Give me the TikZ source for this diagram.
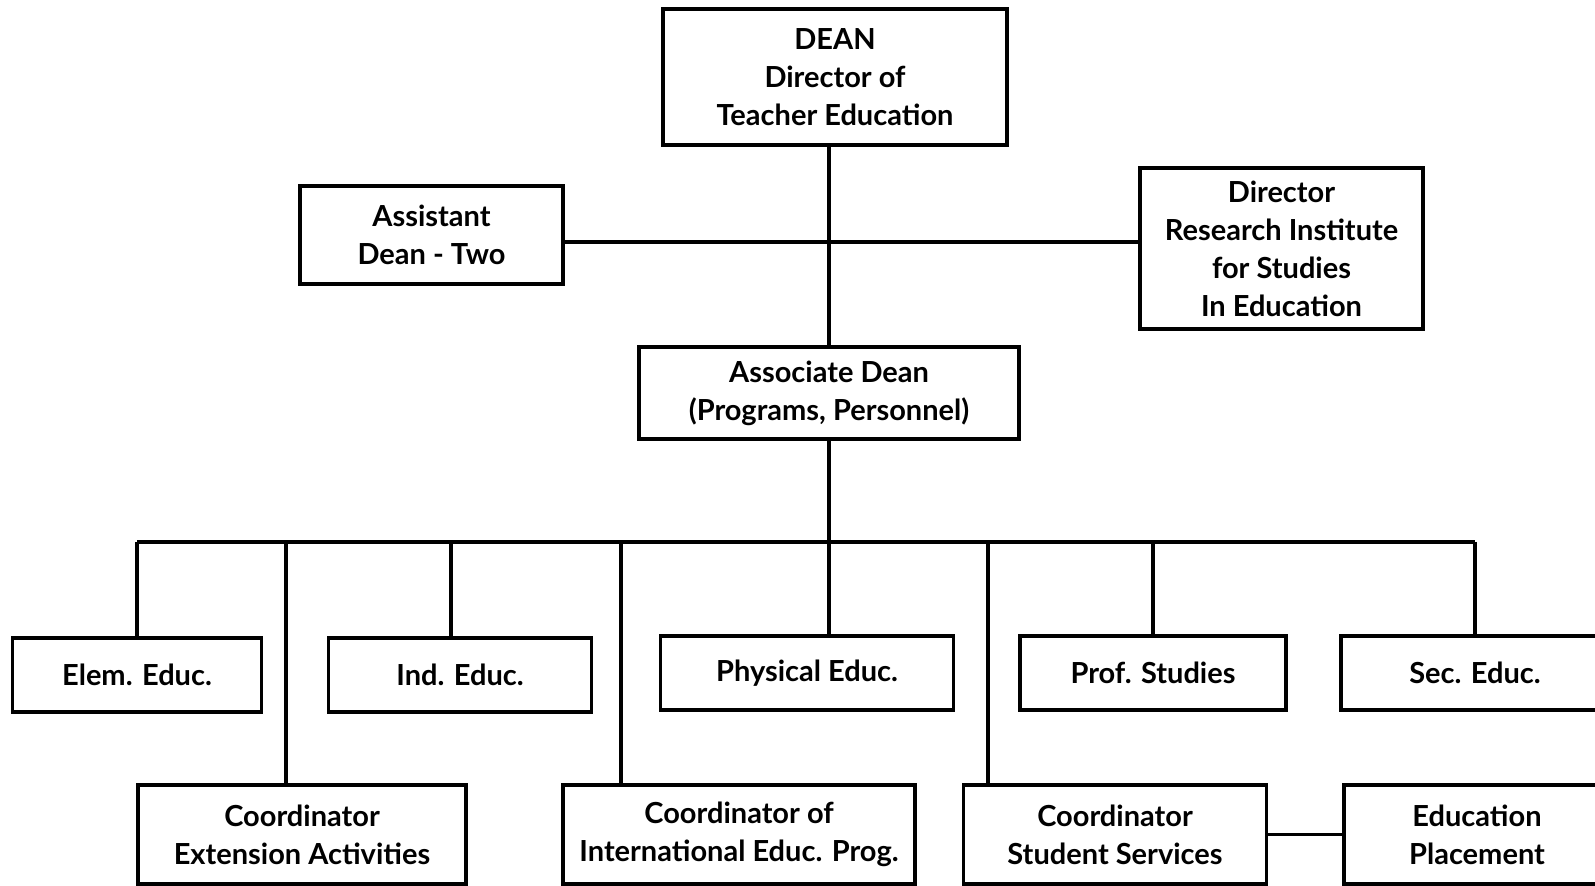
\documentclass[tikz,border=0pt]{standalone}
\usepackage{fontspec}
\setmainfont{Lato}
\begin{document}
\begin{tikzpicture}[x=0.5pt, y=-0.5pt,
    box/.style={draw, line width=1.8pt, align=center, inner sep=0pt,
      font=\fontsize{14.5}{19}\selectfont\bfseries},
    link/.style={line width=1.8pt}]
    \useasboundingbox (0,0) rectangle (1595,886);
    \clip (0,0) rectangle (1595,886);

    \node[box, minimum width=172pt, minimum height=68pt]
    (dean) at (835,77) {DEAN\\Director of\\Teacher Education};
    \node[box, minimum width=131.5pt, minimum height=49pt]
    (asst) at (431.5,235) {Assistant\\Dean - Two};
    \node[box, minimum width=141.5pt, minimum height=80.5pt]
    (dir) at (1281.5,248.5) {Director\\Research Institute\\for Studies\\In Education};
    \node[box, minimum width=190pt, minimum height=46pt]
    (assoc) at (829,393) {Associate Dean\\(Programs, Personnel)};

    \draw[link] (dean.south -| assoc) -- (assoc.north);
    \draw[link] ([yshift=-3.5pt]asst.east) -- ([yshift=-3.5pt]asst.east -| dir.west);

    % departments
    \node[box, minimum width=124.5pt, minimum height=37pt] (elem) at (137,675) {Elem. Educ.};
    \node[box, minimum width=131.5pt, minimum height=37pt] (ind) at (460,675) {Ind. Educ.};
    \node[box, minimum width=146.5pt, minimum height=37pt] (phys) at (807,673) {Physical Educ.};
    \node[box, minimum width=133pt, minimum height=37pt] (prof) at (1153,673) {Prof. Studies};
    \node[box, minimum width=134pt, minimum height=37pt] (sec) at (1475,673) {Sec. Educ.};

    % coordinators
    \node[box, minimum width=164pt, minimum height=49.5pt] (ext) at (302,834.5) {Coordinator\\Extension Activities};
    \node[box, minimum width=176pt, minimum height=49.5pt] (intl) at (739,834.5) {Coordinator of\\International Educ. Prog.};
    \node[box, minimum width=151.5pt, minimum height=49.5pt] (stud) at (1115,834.5) {Coordinator\\Student Services};
    \node[box, minimum width=133pt, minimum height=49.5pt] (place) at (1477,834.5) {Education\\Placement};

    \coordinate (bus) at (826,542);
    \draw[link] (assoc.south) -- (assoc.south |- phys.north);
    \draw[link] (elem.north |- bus) -- (sec.north |- bus);
    \foreach \d in {elem, prof, sec}
      \draw[link] (\d.north |- bus) -- (\d.north);
    \draw[link] ([xshift=-4.5pt]ind.north |- bus) -- ([xshift=-4.5pt]ind.north);
    \draw[link] ([xshift=75pt]ext.north west |- bus) -- ([xshift=75pt]ext.north west);
    \draw[link] ([xshift=30pt]intl.north west |- bus) -- ([xshift=30pt]intl.north west);
    \draw[link] ([xshift=13pt]stud.north west |- bus) -- ([xshift=13pt]stud.north west);
    \draw[link] (stud) -- (place);
  \end{tikzpicture}
\end{document}
